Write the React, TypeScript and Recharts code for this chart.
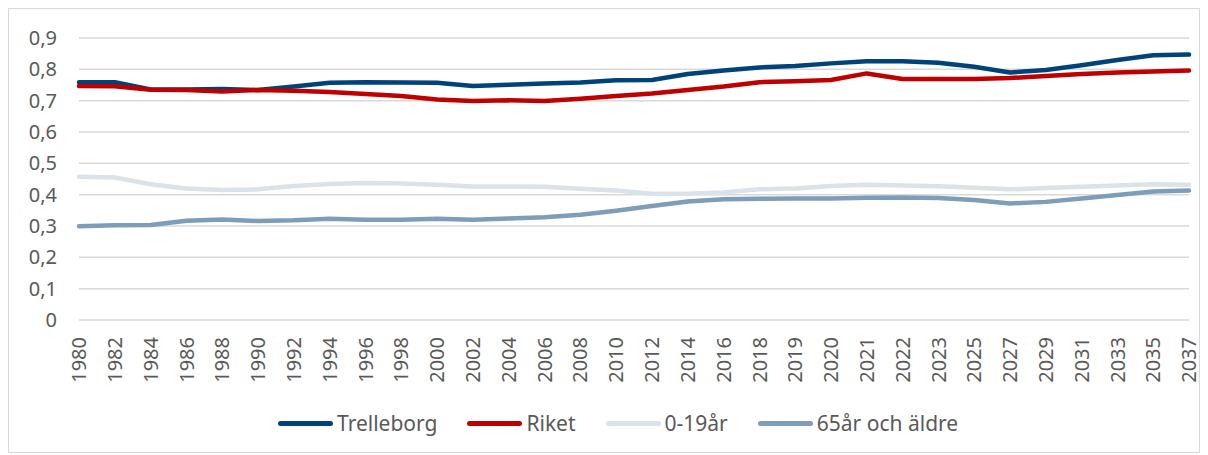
import React from "react";
import { LineChart, Line, XAxis, YAxis, CartesianGrid, Legend } from "recharts";

const years = [
  "1980", "1982", "1984", "1986", "1988", "1990", "1992", "1994", "1996", "1998",
  "2000", "2002", "2004", "2006", "2008", "2010", "2012", "2014", "2016", "2018",
  "2019", "2020", "2021", "2022", "2023", "2025", "2027", "2029", "2031", "2033",
  "2035", "2037",
];

const trelleborg = [
  0.759, 0.759, 0.736, 0.736, 0.737, 0.734, 0.745, 0.757, 0.759, 0.758,
  0.757, 0.747, 0.751, 0.755, 0.758, 0.765, 0.766, 0.785, 0.796, 0.806,
  0.811, 0.819, 0.826, 0.826, 0.821, 0.808, 0.79, 0.798, 0.813, 0.83,
  0.845, 0.847,
];

const riket = [
  0.747, 0.746, 0.735, 0.734, 0.729, 0.734, 0.732, 0.728, 0.721, 0.715,
  0.704, 0.699, 0.701, 0.699, 0.706, 0.715, 0.723, 0.734, 0.745, 0.759,
  0.762, 0.766, 0.787, 0.769, 0.769, 0.769, 0.772, 0.779, 0.785, 0.79,
  0.793, 0.796,
];

const youth = [
  0.457, 0.455, 0.433, 0.42, 0.415, 0.417, 0.428, 0.434, 0.437, 0.436,
  0.432, 0.426, 0.426, 0.425, 0.419, 0.413, 0.403, 0.403, 0.407, 0.417,
  0.42, 0.428, 0.432, 0.429, 0.427, 0.422, 0.417, 0.421, 0.425, 0.429,
  0.433, 0.432,
];

const elderly = [
  0.299, 0.302, 0.303, 0.317, 0.321, 0.316, 0.318, 0.323, 0.32, 0.32,
  0.323, 0.32, 0.324, 0.328, 0.336, 0.349, 0.364, 0.378, 0.385, 0.387,
  0.388, 0.388, 0.39, 0.391, 0.389, 0.383, 0.372, 0.377, 0.388, 0.399,
  0.41, 0.413,
];

const yTicks = [0, 0.1, 0.2, 0.3, 0.4, 0.5, 0.6, 0.7, 0.8, 0.9];

const series = [
  { key: "trelleborg", name: "Trelleborg", color: "#00427A" },
  { key: "riket", name: "Riket", color: "#C00000" },
  { key: "youth", name: "0-19år", color: "#DAE3EA" },
  { key: "elderly", name: "65år och äldre", color: "#7D9DB9" },
];

const data = years.map((y, i) => ({
  year: y,
  trelleborg: trelleborg[i],
  riket: riket[i],
  youth: youth[i],
  elderly: elderly[i],
}));

const font = "'Noto Sans', sans-serif";
const textColor = "#595959";

const YearTick = (props: any) => {
  const { x, payload } = props;
  const y = 328;
  return (
    <text
      x={x}
      y={y}
      transform={`rotate(-90, ${x}, ${y})`}
      textAnchor="end"
      dy="0.36em"
      fill={textColor}
      fontSize={20}
      fontFamily={font}
    >
      {payload.value}
    </text>
  );
};

const LegendContent = () => (
  <div
    style={{
      display: "flex",
      justifyContent: "flex-start",
      alignItems: "center",
      paddingTop: 27,
      paddingLeft: 269,
      fontFamily: font,
      fontSize: 21,
      color: textColor,
    }}
  >
    {series.map((s) => (
      <div key={s.key} style={{ display: "flex", alignItems: "center", marginRight: 30 }}>
        <span
          style={{
            display: "inline-block",
            width: 55,
            height: 5,
            borderRadius: 3,
            background: s.color,
            marginRight: 4,
          }}
        />
        <span>{s.name}</span>
      </div>
    ))}
  </div>
);

export default function App() {
  return (
    <div
      style={{
        width: 1190,
        height: 443,
        border: "1px solid #d9d9d9",
        background: "#fff",
      }}
    >
      <style>{`svg.recharts-surface { overflow: visible; }`}</style>
      <LineChart
        width={1190}
        height={443}
        data={data}
        margin={{ top: 29, right: 10, left: 0, bottom: 0 }}
      >
        <CartesianGrid vertical={false} stroke="#d9d9d9" strokeWidth={1.5} />
        <XAxis
          dataKey="year"
          interval={0}
          axisLine={false}
          tickLine={false}
          height={62}
          tick={<YearTick />}
        />
        <YAxis
          domain={[0, 0.9]}
          ticks={yTicks}
          width={70}
          axisLine={false}
          tickLine={false}
          tickMargin={16}
          tickFormatter={(v: number) => String(Math.round(v * 10) / 10).replace(".", ",")}
          tick={{ fill: textColor, fontSize: 20, fontFamily: font }}
        />
        <Legend verticalAlign="bottom" height={70} content={<LegendContent />} />
        {series.map((s) => (
          <Line
            key={s.key}
            dataKey={s.key}
            name={s.name}
            stroke={s.color}
            strokeWidth={4.5}
            dot={false}
            type="linear"
            strokeLinejoin="round"
            strokeLinecap="round"
            isAnimationActive={false}
          />
        ))}
      </LineChart>
    </div>
  );
}
